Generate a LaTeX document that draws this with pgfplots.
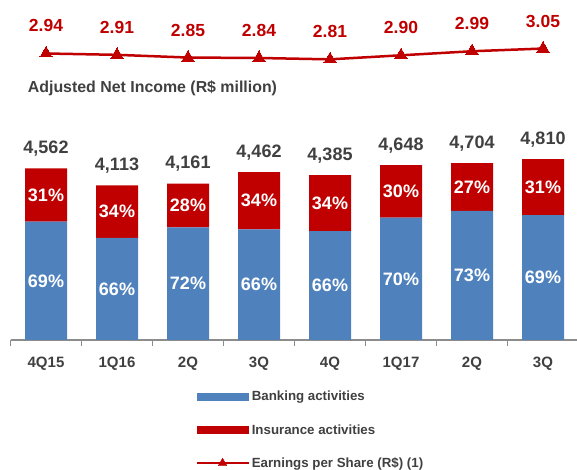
\documentclass[border=0pt]{standalone}
\usepackage{pgfplots}
\pgfplotsset{compat=1.18}
\usepackage{fontspec}
\setmainfont{Liberation Sans}

\definecolor{bankblue}{HTML}{4F81BD}
\definecolor{insred}{HTML}{C00000}
\definecolor{txtgray}{HTML}{404040}
\definecolor{axgray}{HTML}{8C8C8C}

\pgfplotsset{
  base/.style={scale only axis, width=568pt, xmin=-0.5, xmax=7.5,
    clip=false, at={(10.5pt,130pt)}, anchor=south west},
  barlbl/.style={draw=none, nodes near coords, point meta=explicit symbolic,
    nodes near coords style={font=\fontsize{18}{20}\selectfont\bfseries, #1}},
}

\begin{document}
\begin{tikzpicture}
\path[use as bounding box] (0,0) rectangle (577pt,470pt);

% stacked bars: banking + insurance = adjusted net income
\begin{axis}[base, height=188pt, ymin=0, ymax=5000,
    ybar stacked, bar width=42pt,
    axis y line=none, axis x line*=bottom,
    x axis line style={axgray, line width=1.2pt, -},
    xtick={0,...,7},
    xticklabels={4Q15,1Q16,2Q,3Q,4Q,1Q17,2Q,3Q},
    major x tick style={draw=none},
    minor xtick={-0.5,0.5,...,7.5},
    minor x tick style={axgray, line width=1pt},
    minor tick length=6pt, tick align=outside,
    xticklabel style={font=\fontsize{15}{17}\selectfont\bfseries, text=txtgray, yshift=-9pt},
    title={Adjusted Net Income (R\$ million)},
    title style={at={(axis description cs:0.0303,1.3085)}, anchor=west, inner sep=0pt,
      font=\fontsize{15.9}{18}\selectfont\bfseries, text=txtgray},
    legend style={at={(axis description cs:0.325,-0.261)}, anchor=north west,
      draw=none, fill=none, inner sep=0pt, row sep=18pt,
      font=\fontsize{13.3}{15}\selectfont\bfseries, text=txtgray,
      legend cell align=left,
      /tikz/every even column/.append style={column sep=5pt}},
  ]
  \addplot[fill=bankblue, draw=none,
    legend image code/.code={\fill[bankblue] (0pt,-3.7pt) rectangle (52pt,3.7pt);}]
    coordinates {(0,3148) (1,2715) (2,2996) (3,2945) (4,2894) (5,3254) (6,3434) (7,3319)};
  \addlegendentry{Banking activities}
  \addplot[fill=insred, draw=none,
    legend image code/.code={\fill[insred] (0pt,-3.7pt) rectangle (52pt,3.7pt);}]
    coordinates {(0,1414) (1,1398) (2,1165) (3,1517) (4,1491) (5,1394) (6,1270) (7,1491)};
  \addlegendentry{Insurance activities}
  \addlegendimage{legend image code/.code={
    \draw[insred, line width=2.5pt] (0pt,0pt) -- (52pt,0pt);
    \fill[insred] (26pt,0pt) ++(90:5pt) -- ++(-120:8.66pt) -- ++(0:8.66pt) -- cycle;}}
  \addlegendentry{Earnings per Share (R\$) (1)}
\end{axis}

% labels on the bars
\begin{axis}[base, height=188pt, ymin=0, ymax=5000, hide axis]
  \addplot[barlbl={white, anchor=center}] coordinates {
    (0,1574) [69\%] (1,1357) [66\%] (2,1498) [72\%] (3,1472) [66\%]
    (4,1447) [66\%] (5,1627) [70\%] (6,1717) [73\%] (7,1660) [69\%]};
  \addplot[barlbl={white, anchor=center}] coordinates {
    (0,3855) [31\%] (1,3414) [34\%] (2,3578) [28\%] (3,3703) [34\%]
    (4,3640) [34\%] (5,3951) [30\%] (6,4069) [27\%] (7,4065) [31\%]};
  \addplot[barlbl={txtgray, anchor=base, yshift=15pt}] coordinates {
    (0,4562) [4{,}562] (1,4113) [4{,}113] (2,4161) [4{,}161] (3,4462) [4{,}462]
    (4,4385) [4{,}385] (5,4648) [4{,}648] (6,4704) [4{,}704] (7,4810) [4{,}810]};
\end{axis}

% earnings per share
\begin{axis}[base, at={(10.5pt,396.7pt)}, height=45pt, ymin=2.5, ymax=3.5, hide axis]
  \addplot[insred, line width=2.5pt, mark=triangle*, mark size=7pt,
    mark options={solid, line width=0pt},
    nodes near coords, point meta=explicit symbolic,
    nodes near coords style={font=\fontsize{17.5}{20}\selectfont\bfseries,
      text=insred, anchor=base, yshift=21.5pt}]
    coordinates {(0,2.94) [2.94] (1,2.91) [2.91] (2,2.85) [2.85] (3,2.84) [2.84]
      (4,2.81) [2.81] (5,2.90) [2.90] (6,2.99) [2.99] (7,3.05) [3.05]};
\end{axis}
\end{tikzpicture}
\end{document}
